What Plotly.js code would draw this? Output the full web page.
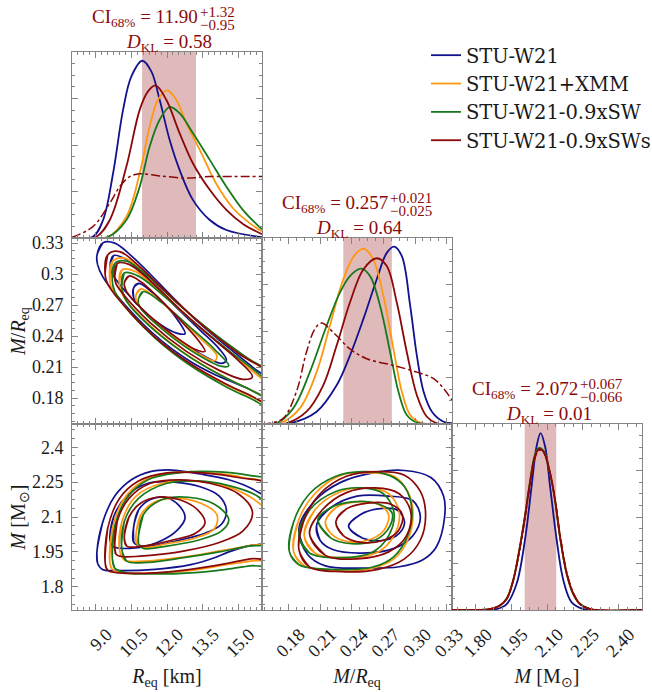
<!DOCTYPE html>
<html><head><meta charset="utf-8">
<script src="https://cdn.plot.ly/plotly-3.0.1.min.js"></script>
<style>html,body{margin:0;padding:0;background:#fff}</style>
</head><body><div id="chart" style="width:652px;height:692px"></div>
<script>
// ---------------- DATA ----------------
const seriesNames = ['STU-W21','STU-W21+XMM','STU-W21-0.9xSW','STU-W21-0.9xSWs'];

// CI bands and KL divergences (R_eq, M/R_eq, M)
const ciMid = [11.90, 0.257, 2.072];
const ciUp = [1.32, 0.021, 0.067];
const ciLo = [0.95, 0.025, 0.066];
const ciDigits = [2, 3, 3];
const dKL = [0.58, 0.64, 0.01];

// tick labels
const R_ticks = [9.0, 10.5, 12.0, 13.5, 15.0];
const R_tick_text = ['9.0','10.5','12.0','13.5','15.0'];
const C_ticks = [0.18, 0.21, 0.24, 0.27, 0.30, 0.33];
const C_tick_text_x = ['0.18','0.21','0.24','0.27','0.30','0.33'];
const C_tick_text_y = ['0.18','0.21','0.24','0.27','0.3','0.33'];
const M_ticks = [1.80, 1.95, 2.10, 2.25, 2.40];
const M_tick_text_x = ['1.80','1.95','2.10','2.25','2.40'];
const M_tick_text_y = ['1.8','1.95','2.1','2.25','2.4'];

// marginal of R_eq (relative height)
const R_blue_x = [8.0, 8.88, 9.31, 9.73, 10.15, 10.5, 10.96, 11.34, 11.69, 12.11, 12.53, 13.09, 13.80, 14.50, 16.0];
const R_blue_h = [0, 0.007, 0.097, 0.348, 0.689, 0.869, 0.953, 0.896, 0.743, 0.528, 0.366, 0.205, 0.097, 0.043, 0.004];
const R_orange_x = [8.0, 9.5, 10.29, 10.85, 11.27, 11.62, 12.00, 12.39, 12.81, 13.38, 14.08, 14.78, 15.48, 16.0];
const R_orange_h = [0, 0.005, 0.115, 0.348, 0.600, 0.743, 0.794, 0.743, 0.618, 0.474, 0.290, 0.160, 0.080, 0.035];
const R_green_x = [8.0, 9.5, 10.29, 10.85, 11.27, 11.69, 12.11, 12.53, 13.09, 13.80, 14.50, 15.20, 16.0];
const R_green_h = [0, 0.005, 0.097, 0.276, 0.492, 0.636, 0.704, 0.671, 0.564, 0.420, 0.276, 0.150, 0.047];
const R_red_x = [8.0, 9.02, 9.59, 10.29, 10.85, 11.20, 11.52, 11.97, 12.53, 13.09, 13.80, 14.50, 15.20, 16.0];
const R_red_h = [0, 0.007, 0.097, 0.384, 0.689, 0.788, 0.820, 0.743, 0.564, 0.402, 0.259, 0.151, 0.075, 0.020];
const R_prior_x = [8.0, 8.88, 9.59, 10.01, 10.43, 10.85, 11.69, 12.81, 13.80, 16.0];
const R_prior_h = [0.004, 0.061, 0.187, 0.276, 0.330, 0.345, 0.334, 0.322, 0.330, 0.330];

// marginal of M/R_eq
const C_blue_x = [0.155, 0.1813, 0.2067, 0.2257, 0.2383, 0.2510, 0.2637, 0.2732, 0.2802, 0.2875, 0.2954, 0.3017, 0.3081, 0.3160, 0.3271, 0.335];
const C_blue_h = [0, 0.004, 0.066, 0.208, 0.368, 0.564, 0.778, 0.920, 0.954, 0.902, 0.635, 0.368, 0.173, 0.066, 0.012, 0.004];
const C_orange_x = [0.155, 0.1718, 0.1908, 0.2067, 0.2193, 0.2320, 0.2431, 0.2517, 0.2605, 0.2700, 0.2795, 0.2875, 0.2954, 0.3049, 0.335];
const C_orange_h = [0, 0.004, 0.084, 0.279, 0.528, 0.778, 0.911, 0.941, 0.884, 0.689, 0.404, 0.173, 0.048, 0.007, 0];
const C_green_x = [0.155, 0.1686, 0.1845, 0.2003, 0.2162, 0.2288, 0.2383, 0.2488, 0.2574, 0.2669, 0.2764, 0.2843, 0.2922, 0.3017, 0.335];
const C_green_h = [0, 0.004, 0.084, 0.279, 0.528, 0.706, 0.795, 0.835, 0.795, 0.635, 0.386, 0.173, 0.048, 0.007, 0];
const C_red_x = [0.155, 0.1781, 0.1971, 0.2130, 0.2257, 0.2383, 0.2510, 0.2637, 0.2732, 0.2827, 0.2922, 0.3017, 0.3112, 0.3207, 0.335];
const C_red_h = [0, 0.004, 0.066, 0.208, 0.422, 0.653, 0.831, 0.891, 0.849, 0.653, 0.386, 0.155, 0.039, 0.004, 0];
const C_prior_x = [0.155, 0.1623, 0.1750, 0.1876, 0.1971, 0.2051, 0.2114, 0.2225, 0.2383, 0.2542, 0.2795, 0.3017, 0.3176, 0.3271, 0.335];
const C_prior_h = [0, 0.004, 0.030, 0.173, 0.386, 0.511, 0.543, 0.493, 0.404, 0.351, 0.315, 0.279, 0.244, 0.190, 0.128];

// marginal of M
const M_blue_x = [1.70, 1.887, 1.930, 1.972, 2.007, 2.035, 2.056, 2.073, 2.092, 2.113, 2.141, 2.169, 2.204, 2.254, 2.50];
const M_blue_h = [0, 0.005, 0.032, 0.141, 0.375, 0.663, 0.879, 0.951, 0.879, 0.663, 0.375, 0.159, 0.041, 0.005, 0];
const M_orange_x = [1.70, 1.860, 1.900, 1.930, 1.958, 1.986, 2.007, 2.028, 2.049, 2.068, 2.087, 2.113, 2.134, 2.155, 2.183, 2.211, 2.240, 2.282, 2.50];
const M_orange_h = [0, 0.005, 0.024, 0.060, 0.160, 0.338, 0.500, 0.683, 0.830, 0.868, 0.850, 0.737, 0.590, 0.392, 0.196, 0.087, 0.031, 0.005, 0];
const M_green_x = [1.70, 1.859, 1.900, 1.930, 1.958, 1.986, 2.007, 2.028, 2.049, 2.066, 2.086, 2.113, 2.134, 2.155, 2.183, 2.211, 2.240, 2.282, 2.50];
const M_green_h = [0, 0.005, 0.023, 0.061, 0.162, 0.341, 0.503, 0.686, 0.834, 0.872, 0.855, 0.733, 0.588, 0.390, 0.194, 0.085, 0.031, 0.005, 0];
const M_red_x = [1.70, 1.859, 1.901, 1.930, 1.958, 1.986, 2.007, 2.028, 2.049, 2.066, 2.085, 2.113, 2.134, 2.155, 2.183, 2.211, 2.239, 2.282, 2.50];
const M_red_h = [0, 0.005, 0.023, 0.059, 0.159, 0.339, 0.501, 0.681, 0.825, 0.865, 0.852, 0.735, 0.591, 0.393, 0.195, 0.086, 0.032, 0.005, 0];
const M_prior_x = [1.70, 1.860, 1.901, 1.931, 1.958, 1.987, 2.008, 2.029, 2.050, 2.068, 2.086, 2.112, 2.135, 2.156, 2.184, 2.212, 2.240, 2.283, 2.50];
const M_prior_h = [0, 0.006, 0.025, 0.062, 0.160, 0.335, 0.497, 0.676, 0.820, 0.860, 0.846, 0.741, 0.585, 0.398, 0.199, 0.089, 0.030, 0.006, 0];

// 2D credible contours [inner, middle, outer]; pairs of (x, y)
// R_eq (x) vs M (y)
const RM_blue = [
 [[10.6,2.06],[10.8,2.13],[11.3,2.175],[11.9,2.185],[12.5,2.15],[12.76,2.095],[12.4,2.04],[11.8,2.0],[11.0,1.975],[10.6,1.99]],
 [[9.6,2.0],[9.75,2.1],[10.3,2.19],[11.2,2.245],[12.3,2.25],[13.4,2.23],[14.2,2.19],[14.5,2.13],[14.3,2.07],[13.6,2.03],[12.5,2.0],[11.3,1.975],[10.1,1.965],[9.7,1.975]],
 [[9.05,1.95],[9.3,2.08],[9.8,2.19],[10.5,2.26],[11.3,2.295],[12.2,2.302],[13.4,2.285],[14.6,2.26],[15.6,2.22],[16.4,2.16],[16.4,2.0],[15.4,1.975],[14.6,1.95],[14.0,1.925],[13.0,1.895],[11.5,1.875],[9.8,1.87],[9.3,1.873],[9.08,1.9]]
];
const RM_orange = [
 [[10.7,2.03],[10.9,2.11],[11.5,2.165],[12.4,2.18],[13.4,2.16],[14.1,2.11],[14.0,2.05],[13.2,2.01],[12.0,1.985],[11.0,1.97],[10.7,1.99]],
 [[10.0,1.96],[10.1,2.08],[10.7,2.19],[11.8,2.245],[13.0,2.255],[14.4,2.235],[15.6,2.18],[16.4,2.10],[16.4,2.0],[15.4,1.975],[14.0,1.95],[12.5,1.925],[11.0,1.91],[10.2,1.915]],
 [[9.6,1.90],[9.7,2.05],[10.2,2.18],[11.0,2.255],[12.2,2.29],[13.8,2.29],[15.2,2.27],[16.4,2.23],[16.4,1.93],[15.5,1.91],[14.5,1.895],[13.0,1.87],[11.5,1.86],[10.2,1.86],[9.7,1.875]]
];
const RM_green = [
 [[10.8,2.02],[11.0,2.11],[11.8,2.175],[12.9,2.185],[14.0,2.155],[14.6,2.09],[14.3,2.04],[13.3,2.0],[12.0,1.975],[11.0,1.965],[10.8,1.985]],
 [[10.1,1.96],[10.2,2.08],[10.8,2.18],[12.0,2.245],[13.3,2.255],[14.6,2.235],[15.8,2.19],[16.4,2.12],[16.4,1.99],[15.4,1.975],[14.2,1.95],[12.7,1.925],[11.2,1.905],[10.3,1.91]],
 [[9.7,1.92],[9.8,2.06],[10.3,2.18],[11.2,2.26],[12.5,2.29],[14.0,2.295],[15.4,2.28],[16.4,2.25],[16.4,1.9],[15.5,1.89],[14.5,1.875],[13.0,1.86],[11.5,1.855],[10.3,1.86],[9.8,1.88]]
];
const RM_red = [
 [[10.2,2.01],[10.4,2.10],[10.9,2.16],[11.6,2.185],[12.5,2.175],[13.3,2.13],[13.6,2.075],[13.2,2.03],[12.2,2.0],[11.0,1.975],[10.3,1.975]],
 [[9.8,1.97],[9.9,2.08],[10.4,2.18],[11.3,2.245],[12.5,2.26],[13.8,2.245],[15.0,2.2],[15.6,2.12],[15.2,2.04],[14.2,1.99],[12.8,1.955],[11.3,1.935],[10.1,1.93],[9.85,1.94]],
 [[9.4,1.9],[9.5,2.05],[10.0,2.18],[10.8,2.255],[12.0,2.29],[13.5,2.29],[15.0,2.27],[16.4,2.23],[16.4,1.93],[15.5,1.92],[14.5,1.9],[13.0,1.875],[11.5,1.86],[10.0,1.86],[9.5,1.87]]
];

// R_eq (x) vs M/R_eq (y)
const RC_blue = [
 [[10.6,0.287],[10.8,0.291],[11.3,0.284],[11.9,0.271],[12.5,0.254],[12.76,0.2424],[12.4,0.243],[11.8,0.250],[11.0,0.265],[10.6,0.277]],
 [[9.6,0.3076],[9.75,0.318],[10.3,0.314],[11.2,0.296],[12.3,0.2701],[13.4,0.2457],[14.2,0.2277],[14.5,0.2169],[14.3,0.2137],[13.6,0.2204],[12.5,0.2363],[11.3,0.2581],[10.1,0.2873],[9.7,0.3006]],
 [[9.05,0.3182],[9.3,0.3303],[9.8,0.330],[10.5,0.3178],[11.3,0.2999],[12.2,0.2786],[13.4,0.2518],[14.6,0.2286],[15.6,0.2101],[16.4,0.1945],[16.4,0.1801],[15.4,0.1894],[14.6,0.1972],[14.0,0.2030],[13.0,0.2152],[11.5,0.2407],[9.8,0.2818],[9.3,0.2974],[9.08,0.3090]]
];
const RC_orange = [
 [[10.7,0.2801],[10.9,0.2858],[11.5,0.2780],[12.4,0.2596],[13.4,0.2380],[14.1,0.2210],[14.0,0.2162],[13.2,0.2248],[12.0,0.2443],[11.0,0.2644],[10.7,0.2746]],
 [[10.0,0.2894],[10.1,0.3041],[10.7,0.3022],[11.8,0.2809],[13.0,0.2561],[14.4,0.2292],[15.6,0.2063],[16.4,0.1891],[16.4,0.1801],[15.4,0.1894],[14.0,0.2057],[12.5,0.2274],[11.0,0.2564],[10.2,0.2772]],
 [[9.6,0.2922],[9.7,0.3121],[10.2,0.3156],[11.0,0.3027],[12.2,0.2772],[13.8,0.2450],[15.2,0.2205],[16.4,0.2008],[16.4,0.1738],[15.5,0.1820],[14.5,0.1930],[13.0,0.2124],[11.5,0.2388],[10.2,0.2693],[9.7,0.2854]]
];
const RC_green = [
 [[10.8,0.2762],[11.0,0.2832],[11.8,0.2722],[12.9,0.2501],[14.0,0.2273],[14.6,0.2114],[14.3,0.2107],[13.3,0.2220],[12.0,0.2430],[11.0,0.2638],[10.8,0.2714]],
 [[10.1,0.2865],[10.2,0.3011],[10.8,0.2981],[12.0,0.2763],[13.3,0.2504],[14.6,0.2260],[15.8,0.2047],[16.4,0.1909],[16.4,0.1792],[15.4,0.1894],[14.2,0.2028],[12.7,0.2238],[11.2,0.2512],[10.3,0.2738]],
 [[9.7,0.2923],[9.8,0.3104],[10.3,0.3125],[11.2,0.2980],[12.5,0.2705],[14.0,0.2421],[15.4,0.2186],[16.4,0.2026],[16.4,0.1711],[15.5,0.1800],[14.5,0.1909],[13.0,0.2113],[11.5,0.2382],[10.3,0.2667],[9.8,0.2833]]
];
const RC_red = [
 [[10.2,0.2910],[10.4,0.2982],[10.9,0.2926],[11.6,0.2781],[12.5,0.2569],[13.3,0.2365],[13.6,0.2253],[13.2,0.2271],[12.2,0.2421],[11.0,0.2651],[10.3,0.2831]],
 [[9.8,0.2968],[9.9,0.3102],[10.4,0.3095],[11.3,0.2934],[12.5,0.2670],[13.8,0.2402],[15.0,0.2166],[15.6,0.2007],[15.2,0.1982],[14.2,0.2069],[12.8,0.2255],[11.3,0.2528],[10.1,0.2822],[9.85,0.2908]],
 [[9.4,0.2985],[9.5,0.3186],[10.0,0.3219],[10.8,0.3083],[12.0,0.2818],[13.5,0.2505],[15.0,0.2235],[16.4,0.2008],[16.4,0.1738],[15.5,0.1829],[14.5,0.1935],[13.0,0.2130],[11.5,0.2388],[10.0,0.2747],[9.5,0.2907]]
];

// M/R_eq (x) vs M (y)
const CM_blue = [
 [[0.237,2.06],[0.248,2.11],[0.265,2.135],[0.283,2.13],[0.29,2.08],[0.285,2.03],[0.27,2.0],[0.25,2.01]],
 [[0.207,2.07],[0.22,2.14],[0.245,2.19],[0.275,2.19],[0.298,2.17],[0.305,2.10],[0.298,2.02],[0.28,1.965],[0.25,1.945],[0.222,1.96],[0.21,2.0]],
 [[0.19,2.05],[0.205,2.17],[0.23,2.25],[0.26,2.29],[0.29,2.30],[0.315,2.27],[0.327,2.19],[0.328,2.10],[0.32,1.97],[0.307,1.915],[0.285,1.886],[0.25,1.88],[0.215,1.89],[0.198,1.94]]
];
const CM_orange = [
 [[0.215,2.08],[0.225,2.14],[0.245,2.165],[0.265,2.155],[0.275,2.11],[0.27,2.04],[0.255,2.0],[0.235,1.995],[0.22,2.03]],
 [[0.195,2.02],[0.205,2.13],[0.23,2.21],[0.255,2.225],[0.275,2.2],[0.285,2.12],[0.28,2.02],[0.265,1.95],[0.235,1.925],[0.205,1.945]],
 [[0.185,1.95],[0.19,2.09],[0.205,2.2],[0.23,2.28],[0.255,2.29],[0.28,2.275],[0.293,2.21],[0.298,2.12],[0.293,2.0],[0.28,1.92],[0.255,1.875],[0.22,1.87],[0.195,1.89]]
];
const CM_green = [
 [[0.208,2.09],[0.22,2.14],[0.24,2.165],[0.262,2.16],[0.278,2.12],[0.276,2.06],[0.262,2.0],[0.24,1.985],[0.22,2.01]],
 [[0.19,2.02],[0.2,2.13],[0.225,2.21],[0.25,2.225],[0.27,2.2],[0.28,2.12],[0.275,2.02],[0.26,1.95],[0.23,1.925],[0.2,1.945]],
 [[0.181,1.95],[0.185,2.08],[0.2,2.2],[0.225,2.275],[0.25,2.295],[0.275,2.28],[0.29,2.23],[0.297,2.13],[0.293,2.02],[0.28,1.93],[0.26,1.885],[0.22,1.875],[0.19,1.895]]
];
const CM_red = [
 [[0.225,2.08],[0.235,2.135],[0.255,2.16],[0.277,2.155],[0.288,2.11],[0.284,2.04],[0.27,2.0],[0.25,1.99],[0.232,2.02]],
 [[0.2,2.03],[0.212,2.13],[0.235,2.205],[0.262,2.225],[0.285,2.2],[0.296,2.12],[0.292,2.02],[0.275,1.95],[0.245,1.92],[0.215,1.935]],
 [[0.19,1.96],[0.195,2.09],[0.21,2.2],[0.235,2.275],[0.265,2.295],[0.29,2.28],[0.305,2.21],[0.31,2.11],[0.305,2.0],[0.29,1.92],[0.265,1.875],[0.23,1.865],[0.2,1.885]]
];

// ---------------- STYLE / BUILD ----------------
const colors = ['#12128e', '#ff9810', '#18781c', '#8b0808'];
const W = 652, H = 692;
const colPx = [[72, 262], [262, 452], [452, 642]];
const rowPx = [[52, 238], [238, 424], [424, 610]];
const xd = c => [colPx[c][0] / W, colPx[c][1] / W];
const yd = r => [1 - rowPx[r][1] / H, 1 - rowPx[r][0] / H];

const traces = [];
function curve(ax, xs, ys, color, opts) {
  opts = opts || {};
  traces.push({
    type: 'scatter', mode: 'lines', x: xs, y: ys, xaxis: 'x' + ax.x, yaxis: 'y' + ax.y,
    line: {color: color, width: opts.width || 1.8, shape: 'spline', smoothing: 1, dash: opts.dash || 'solid'},
    name: opts.name || '', showlegend: !!opts.legend, legendgroup: opts.group || undefined,
    hoverinfo: 'skip'
  });
}
function loop(ax, pts, color, group) {
  const n = pts.length;
  const seq = [pts[n - 1]].concat(pts, [pts[0], pts[1]]);
  curve(ax, seq.map(p => p[0]), seq.map(p => p[1]), color, {width: 1.7, group: group});
}

const P1 = {x: '', y: ''}, P2 = {x: '2', y: '2'}, P3 = {x: '3', y: '3'};
const P4 = {x: '4', y: '4'}, P5 = {x: '5', y: '5'}, P6 = {x: '6', y: '6'};

const Rm = [[R_blue_x, R_blue_h], [R_orange_x, R_orange_h], [R_green_x, R_green_h], [R_red_x, R_red_h]];
const Cm = [[C_blue_x, C_blue_h], [C_orange_x, C_orange_h], [C_green_x, C_green_h], [C_red_x, C_red_h]];
const Mm = [[M_blue_x, M_blue_h], [M_orange_x, M_orange_h], [M_green_x, M_green_h], [M_red_x, M_red_h]];
const RMc = [RM_blue, RM_orange, RM_green, RM_red];
const RCc = [RC_blue, RC_orange, RC_green, RC_red];
const CMc = [CM_blue, CM_orange, CM_green, CM_red];

for (let i = 0; i < 4; i++) {
  curve(P1, Rm[i][0], Rm[i][1], colors[i], {name: seriesNames[i], legend: true, group: 'g' + i});
  curve(P3, Cm[i][0], Cm[i][1], colors[i], {group: 'g' + i});
  curve(P6, Mm[i][0], Mm[i][1], colors[i], {group: 'g' + i});
  RCc[i].forEach(c => loop(P2, c, colors[i], 'g' + i));
  RMc[i].forEach(c => loop(P4, c, colors[i], 'g' + i));
  CMc[i].forEach(c => loop(P5, c, colors[i], 'g' + i));
}
curve(P1, R_prior_x, R_prior_h, colors[3], {dash: 'dashdot', width: 1.5});
curve(P3, C_prior_x, C_prior_h, colors[3], {dash: 'dashdot', width: 1.5});
curve(P6, M_prior_x, M_prior_h, colors[3], {dash: 'dashdot', width: 1.5});

const TC = '#858585';
const SERIF = 'Liberation Serif';
const tickFont = {family: SERIF, size: 18, color: '#1a1a1a'};
const titleFont = {family: SERIF, size: 20, color: '#1a1a1a'};
function axis(domain, anchor, range, o) {
  const a = {
    domain: domain, anchor: anchor, range: range, automargin: false,
    showline: true, linecolor: TC, linewidth: 1,
    mirror: 'ticks', ticks: 'inside', ticklen: 6, tickwidth: 1, tickcolor: TC,
    showgrid: false, zeroline: false, fixedrange: true, tickfont: tickFont,
    showticklabels: false, ticklabelstandoff: o.standoffLab || 3
  };
  if (o.vals) { a.tickmode = 'array'; a.tickvals = o.vals; a.ticktext = o.text; }
  else { a.tickmode = 'linear'; a.tick0 = 0; a.dtick = 0.25; }
  a.minor = {tickmode: 'linear', tick0: o.m0, dtick: o.md, ticks: 'inside', ticklen: 3, tickcolor: TC, showgrid: false};
  if (o.labels) { a.showticklabels = true; }
  if (o.angle !== undefined) { a.tickangle = o.angle; a.ticklabelshift = 11; }
  if (o.title) a.title = {text: o.title, font: titleFont, standoff: o.standoff};
  return a;
}
const Rr = [8, 16], Cr = [0.155, 0.335], Mr = [1.7, 2.5], Dr = [0, 1];
const Rt = {vals: R_ticks, text: R_tick_text, m0: 8, md: 0.25};
const Cx = {vals: C_ticks, text: C_tick_text_x, m0: 0.15, md: 0.0075};
const Cy = {vals: C_ticks, text: C_tick_text_y, m0: 0.15, md: 0.0075};
const Mx = {vals: M_ticks, text: M_tick_text_x, m0: 1.65, md: 0.0375};
const My = {vals: M_ticks, text: M_tick_text_y, m0: 1.65, md: 0.0375};
const Dt = {m0: 0, md: 0.0625};
const RtitleT = '<i>R</i><sub>eq</sub> [km]';
const CtitleT = '<i>M</i>/<i>R</i><sub>eq</sub>';
const MtitleT = '<i>M</i> [M<sub>⊙</sub>]';

const xLab = {labels: true, angle: -45, standoff: 8, standoffLab: 6};
const yLab = {labels: true, standoff: 0, standoffLab: 4};
const layout = {
  width: W, height: H, margin: {l: 0, r: 0, t: 0, b: 0, autoexpand: false},
  paper_bgcolor: '#fff', plot_bgcolor: '#fff', showlegend: true,
  legend: {x: 426 / W, y: 1 - 36 / H, xanchor: 'left', yanchor: 'top', bgcolor: 'rgba(0,0,0,0)',
           font: {family: 'DejaVu Serif', size: 19.5, color: '#1a1a1a'}, tracegroupgap: 0},
  xaxis: axis(xd(0), 'y', Rr, Rt),
  yaxis: axis(yd(0), 'x', Dr, Dt),
  xaxis2: axis(xd(0), 'y2', Rr, Rt),
  yaxis2: axis(yd(1), 'x2', Cr, Object.assign({}, Cy, yLab, {title: CtitleT})),
  xaxis3: axis(xd(1), 'y3', Cr, Cx),
  yaxis3: axis(yd(1), 'x3', Dr, Dt),
  xaxis4: axis(xd(0), 'y4', Rr, Object.assign({}, Rt, xLab, {title: RtitleT})),
  yaxis4: axis(yd(2), 'x4', Mr, Object.assign({}, My, yLab, {title: MtitleT})),
  xaxis5: axis(xd(1), 'y5', Cr, Object.assign({}, Cx, xLab, {title: CtitleT})),
  yaxis5: axis(yd(2), 'x5', Mr, My),
  xaxis6: axis(xd(2), 'y6', Mr, Object.assign({}, Mx, xLab, {title: MtitleT})),
  yaxis6: axis(yd(2), 'x6', Dr, Dt),
  shapes: [], annotations: []
};

const diagX = ['x', 'x3', 'x6'], diagY = ['y', 'y3', 'y6'];
const ciColor = '#8b0a0a';
const annFont = s => ({family: SERIF, size: s, color: ciColor});
for (let i = 0; i < 3; i++) {
  layout.shapes.push({type: 'rect', xref: diagX[i], yref: diagY[i] + ' domain',
    x0: ciMid[i] - ciLo[i], x1: ciMid[i] + ciUp[i], y0: 0, y1: 1,
    fillcolor: 'rgba(139,0,0,0.27)', line: {width: 0}, layer: 'below'});
  const cx = (colPx[i][0] + colPx[i][1]) / 2, top = rowPx[i][0];
  layout.annotations.push({xref: 'paper', yref: 'paper', x: (cx - 77) / W, y: 1 - (top - 34) / H,
    xanchor: 'left', yanchor: 'middle', showarrow: false, font: annFont(19),
    text: 'CI<sub>68%</sub> = ' + ciMid[i].toFixed(ciDigits[i])});
  layout.annotations.push({xref: 'paper', yref: 'paper', x: (cx + 31) / W, y: 1 - (top - 40) / H,
    xanchor: 'left', yanchor: 'middle', showarrow: false, font: annFont(15),
    text: '+' + ciUp[i].toFixed(ciDigits[i])});
  layout.annotations.push({xref: 'paper', yref: 'paper', x: (cx + 31) / W, y: 1 - (top - 27) / H,
    xanchor: 'left', yanchor: 'middle', showarrow: false, font: annFont(15),
    text: '−' + ciLo[i].toFixed(ciDigits[i])});
  layout.annotations.push({xref: 'paper', yref: 'paper', x: (cx + 2) / W, y: 1 - (top - 9) / H,
    xanchor: 'center', yanchor: 'middle', showarrow: false, font: annFont(19),
    text: '<i>D</i><sub>KL</sub> = ' + dKL[i].toFixed(2)});
}

Plotly.newPlot('chart', traces, layout, {staticPlot: true, displayModeBar: false});
</script></body></html>
